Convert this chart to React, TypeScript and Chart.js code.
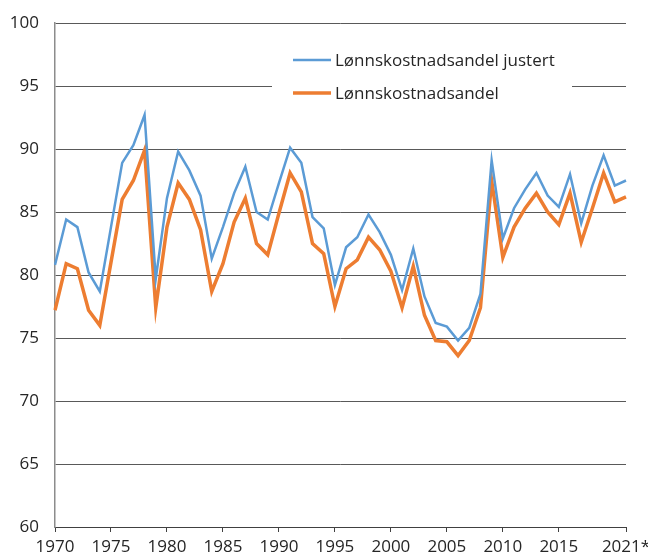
import React, { useEffect, useRef } from "react";
import { Chart, registerables } from "chart.js";

Chart.register(...registerables);

const years: string[] = [];
for (let y = 1970; y <= 2021; y++) years.push(String(y));
const tickLabels = years.map((y, i) => (i === years.length - 1 ? y + "*" : y));

const justert = [
  80.8, 84.4, 83.8, 80.2, 78.7, 83.8, 88.9, 90.3, 92.7, 79.7,
  86.1, 89.8, 88.3, 86.3, 81.3, 83.8, 86.5, 88.6, 85.0, 84.4,
  87.3, 90.1, 88.9, 84.6, 83.7, 79.2, 82.2, 83.0, 84.8, 83.4,
  81.6, 78.8, 82.1, 78.3, 76.2, 75.9, 74.8, 75.8, 78.5, 89.1,
  82.9, 85.3, 86.8, 88.1, 86.3, 85.4, 88.0, 84.1, 87.1, 89.5,
  87.1, 87.5,
];
const andel = [
  77.2, 80.9, 80.5, 77.2, 76.0, 81.0, 86.0, 87.5, 89.9, 77.4,
  83.8, 87.3, 86.0, 83.6, 78.7, 80.9, 84.2, 86.1, 82.5, 81.6,
  84.9, 88.1, 86.6, 82.5, 81.7, 77.5, 80.5, 81.2, 83.0, 82.0,
  80.3, 77.4, 80.7, 76.8, 74.8, 74.7, 73.6, 74.8, 77.4, 87.5,
  81.4, 83.8, 85.3, 86.5, 85.0, 84.0, 86.5, 82.6, 85.3, 88.1,
  85.8, 86.2,
];
const seriesNames = ["Lønnskostnadsandel justert", "Lønnskostnadsandel"];
const seriesColors = ["#5B9BD5", "#ED7D31"];
const seriesWidths = [2.5, 3.5];

const FONT = "'Open Sans', 'Noto Sans', sans-serif";

const legendPlugin = {
  id: "customLegend",
  beforeDatasetsDraw(chart: any) {
    const ctx = chart.ctx;
    ctx.save();
    ctx.fillStyle = "#ffffff";
    ctx.fillRect(272, 38, 300, 72);
    ctx.font = `17px ${FONT}`;
    ctx.textBaseline = "middle";
    ctx.textAlign = "left";
    const rows = [60, 93];
    seriesNames.forEach((name, i) => {
      ctx.strokeStyle = seriesColors[i];
      ctx.lineWidth = seriesWidths[i];
      ctx.beginPath();
      ctx.moveTo(293, rows[i]);
      ctx.lineTo(331, rows[i]);
      ctx.stroke();
      ctx.fillStyle = "#262626";
      ctx.fillText(name, 335, rows[i] + 1);
    });
    ctx.restore();
  },
};

export default function App() {
  const ref = useRef<HTMLCanvasElement>(null);
  useEffect(() => {
    document.body.style.margin = "0";
    const last = tickLabels.length - 1;
    const chart = new Chart(ref.current!, {
      type: "line",
      data: {
        labels: tickLabels,
        datasets: seriesNames.map((name, i) => ({
          label: name,
          data: i === 0 ? justert : andel,
          borderColor: seriesColors[i],
          backgroundColor: seriesColors[i],
          borderWidth: seriesWidths[i],
          pointRadius: 0,
          tension: 0,
          fill: false,
        })),
      },
      options: {
        animation: false,
        responsive: false,
        layout: { padding: { top: 23, right: 22, left: 0, bottom: 0 } },
        plugins: { legend: { display: false }, tooltip: { enabled: false } },
        scales: {
          x: {
            offset: false,
            grid: {
              drawOnChartArea: false,
              drawTicks: true,
              tickLength: 5,
              color: "#404040",
            },
            border: { color: "#404040", width: 1 },
            ticks: {
              autoSkip: false,
              maxRotation: 0,
              padding: 5,
              color: "#262626",
              font: { family: FONT, size: 17 },
              callback: (_v: any, i: number) =>
                (i % 5 === 0 && i < last - 1) || i === last ? tickLabels[i] : null,
            },
            afterFit: (s: any) => {
              s.height = 29;
              s.paddingLeft = 0;
              s.paddingRight = 0;
            },
          },
          y: {
            min: 60,
            max: 100,
            grid: { color: "#595959", drawTicks: false, lineWidth: 1 },
            border: { color: "#8c8c8c", width: 1.5 },
            ticks: {
              stepSize: 5,
              padding: 16,
              color: "#262626",
              font: { family: FONT, size: 17 },
            },
            afterFit: (s: any) => {
              s.width = 55;
              s.paddingTop = 0;
              s.paddingBottom = 0;
            },
          },
        },
      },
      plugins: [legendPlugin],
    });
    return () => chart.destroy();
  }, []);
  return <canvas ref={ref} width={648} height={556} style={{ display: "block" }} />;
}
